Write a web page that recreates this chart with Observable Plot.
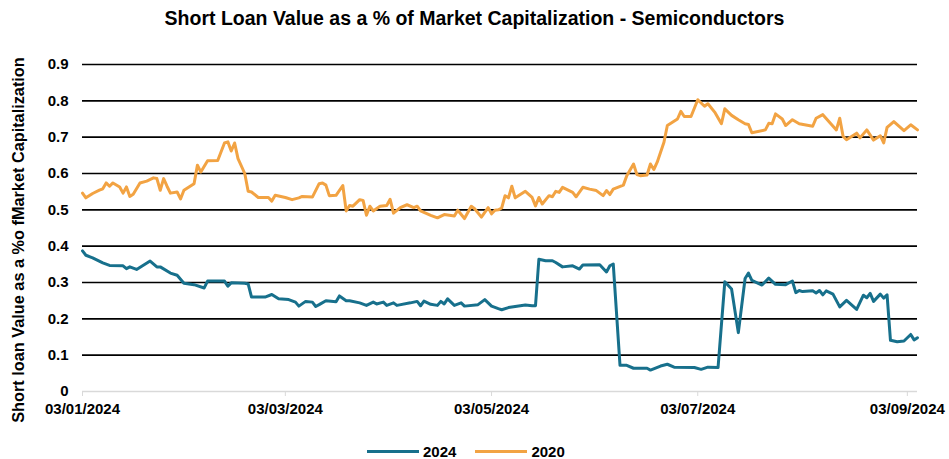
<!DOCTYPE html>
<html><head><meta charset="utf-8">
<script src="https://cdn.jsdelivr.net/npm/d3@7"></script>
<script src="https://cdn.jsdelivr.net/npm/@observablehq/plot@0.6"></script>
<style>
body{margin:0;background:#fff;font-family:"Liberation Sans",Arial,sans-serif;color:#000;}
#wrap{position:relative;width:949px;height:459px;overflow:hidden;}
#title{position:absolute;left:0;top:7px;width:949px;text-align:center;font-weight:bold;font-size:19.5px;z-index:2;}
#ylabel{position:absolute;left:18px;top:240px;transform:translate(-50%,-50%) rotate(-90deg);white-space:nowrap;font-weight:bold;font-size:16.3px;z-index:2;}
#chart{position:absolute;left:0;top:36px;z-index:1;}
#legend{position:absolute;top:443px;left:367px;display:flex;align-items:center;font-weight:bold;font-size:15px;z-index:2;}
.item{display:flex;align-items:center;margin-right:19px;}
.sw{width:52px;height:3px;margin-right:4px;}
</style>
</head><body>
<div id="wrap">
  <div id="chart"></div>
  <div id="title"></div>
  <div id="ylabel"></div>
  <div id="legend"></div>
</div>
<script>
const titleText = "Short Loan Value as a % of Market Capitalization - Semiconductors";
const yLabelText = "Short loan Value as a %o fMarket Capitalization";
const seriesNames = ["2024", "2020"];
const seriesColors = ["#17708c", "#f2a343"];
const yTicks = [0, 0.1, 0.2, 0.3, 0.4, 0.5, 0.6, 0.7, 0.8, 0.9];
const xTicks = ["2024-01-03", "2024-03-03", "2024-05-03", "2024-07-03", "2024-09-03"];
const xDomain = ["2024-01-03", "2024-09-06"];

const dates2024 = ["2024-01-03","2024-01-04","2024-01-06","2024-01-09","2024-01-11","2024-01-15","2024-01-16","2024-01-17","2024-01-19","2024-01-23","2024-01-25","2024-01-26","2024-01-29","2024-01-31","2024-02-02","2024-02-05","2024-02-08","2024-02-09","2024-02-14","2024-02-15","2024-02-16","2024-02-20","2024-02-21","2024-02-22","2024-02-26","2024-02-28","2024-03-01","2024-03-04","2024-03-06","2024-03-07","2024-03-09","2024-03-11","2024-03-12","2024-03-13","2024-03-15","2024-03-18","2024-03-19","2024-03-21","2024-03-22","2024-03-25","2024-03-27","2024-03-29","2024-03-30","2024-04-01","2024-04-02","2024-04-04","2024-04-05","2024-04-09","2024-04-11","2024-04-12","2024-04-13","2024-04-15","2024-04-17","2024-04-18","2024-04-19","2024-04-20","2024-04-22","2024-04-24","2024-04-25","2024-04-29","2024-05-01","2024-05-03","2024-05-05","2024-05-06","2024-05-08","2024-05-13","2024-05-15","2024-05-16","2024-05-17","2024-05-19","2024-05-21","2024-05-22","2024-05-24","2024-05-27","2024-05-29","2024-05-30","2024-06-04","2024-06-06","2024-06-07","2024-06-08","2024-06-10","2024-06-12","2024-06-14","2024-06-18","2024-06-19","2024-06-22","2024-06-24","2024-06-26","2024-07-02","2024-07-04","2024-07-06","2024-07-09","2024-07-11","2024-07-13","2024-07-15","2024-07-17","2024-07-18","2024-07-19","2024-07-22","2024-07-24","2024-07-26","2024-07-29","2024-07-31","2024-08-01","2024-08-02","2024-08-03","2024-08-06","2024-08-07","2024-08-08","2024-08-09","2024-08-10","2024-08-12","2024-08-14","2024-08-16","2024-08-19","2024-08-21","2024-08-22","2024-08-23","2024-08-24","2024-08-26","2024-08-27","2024-08-28","2024-08-29","2024-08-31","2024-09-02","2024-09-04","2024-09-05","2024-09-06"];
const values2024 = [0.387,0.375,0.368,0.354,0.347,0.346,0.338,0.343,0.336,0.359,0.343,0.343,0.326,0.320,0.298,0.294,0.285,0.304,0.304,0.290,0.299,0.298,0.296,0.260,0.260,0.267,0.255,0.253,0.246,0.235,0.248,0.246,0.234,0.239,0.250,0.247,0.263,0.250,0.250,0.244,0.237,0.246,0.241,0.246,0.237,0.244,0.237,0.244,0.248,0.236,0.249,0.240,0.237,0.248,0.241,0.255,0.237,0.244,0.235,0.239,0.253,0.235,0.228,0.225,0.231,0.238,0.236,0.236,0.364,0.360,0.360,0.355,0.343,0.346,0.337,0.348,0.349,0.329,0.346,0.351,0.072,0.072,0.064,0.064,0.059,0.070,0.075,0.067,0.066,0.061,0.067,0.066,0.302,0.282,0.162,0.311,0.326,0.306,0.293,0.312,0.295,0.294,0.304,0.272,0.278,0.275,0.277,0.271,0.278,0.266,0.277,0.268,0.233,0.251,0.226,0.265,0.258,0.270,0.248,0.268,0.257,0.266,0.141,0.137,0.139,0.157,0.142,0.148];

const dates2020 = ["2024-01-03","2024-01-04","2024-01-06","2024-01-08","2024-01-09","2024-01-10","2024-01-11","2024-01-12","2024-01-14","2024-01-15","2024-01-16","2024-01-17","2024-01-18","2024-01-20","2024-01-22","2024-01-24","2024-01-25","2024-01-26","2024-01-27","2024-01-28","2024-01-29","2024-01-31","2024-02-01","2024-02-02","2024-02-05","2024-02-06","2024-02-07","2024-02-09","2024-02-12","2024-02-14","2024-02-15","2024-02-16","2024-02-17","2024-02-18","2024-02-20","2024-02-21","2024-02-22","2024-02-24","2024-02-27","2024-02-28","2024-02-29","2024-03-03","2024-03-05","2024-03-07","2024-03-08","2024-03-11","2024-03-13","2024-03-14","2024-03-15","2024-03-16","2024-03-18","2024-03-20","2024-03-21","2024-03-22","2024-03-23","2024-03-25","2024-03-26","2024-03-27","2024-03-28","2024-03-29","2024-03-31","2024-04-02","2024-04-03","2024-04-04","2024-04-06","2024-04-08","2024-04-10","2024-04-11","2024-04-12","2024-04-15","2024-04-17","2024-04-19","2024-04-22","2024-04-23","2024-04-25","2024-04-27","2024-04-28","2024-04-30","2024-05-02","2024-05-03","2024-05-04","2024-05-05","2024-05-06","2024-05-07","2024-05-08","2024-05-09","2024-05-10","2024-05-13","2024-05-15","2024-05-16","2024-05-17","2024-05-18","2024-05-20","2024-05-21","2024-05-22","2024-05-23","2024-05-24","2024-05-27","2024-05-28","2024-05-30","2024-06-01","2024-06-03","2024-06-05","2024-06-06","2024-06-07","2024-06-08","2024-06-11","2024-06-12","2024-06-14","2024-06-15","2024-06-16","2024-06-18","2024-06-19","2024-06-20","2024-06-21","2024-06-23","2024-06-24","2024-06-27","2024-06-28","2024-06-29","2024-07-01","2024-07-03","2024-07-05","2024-07-06","2024-07-08","2024-07-10","2024-07-11","2024-07-13","2024-07-15","2024-07-17","2024-07-18","2024-07-19","2024-07-23","2024-07-24","2024-07-25","2024-07-26","2024-07-28","2024-07-29","2024-07-31","2024-08-02","2024-08-06","2024-08-07","2024-08-09","2024-08-13","2024-08-14","2024-08-15","2024-08-16","2024-08-19","2024-08-20","2024-08-22","2024-08-24","2024-08-26","2024-08-27","2024-08-28","2024-08-30","2024-09-02","2024-09-04","2024-09-06"];
const values2020 = [0.546,0.533,0.545,0.554,0.558,0.574,0.565,0.574,0.563,0.546,0.563,0.537,0.543,0.574,0.579,0.588,0.586,0.554,0.586,0.565,0.546,0.549,0.530,0.554,0.572,0.623,0.604,0.635,0.636,0.684,0.687,0.662,0.684,0.641,0.600,0.551,0.549,0.534,0.534,0.524,0.540,0.534,0.528,0.533,0.537,0.535,0.572,0.574,0.568,0.539,0.540,0.567,0.497,0.512,0.510,0.528,0.526,0.485,0.510,0.497,0.510,0.512,0.529,0.491,0.506,0.514,0.506,0.510,0.497,0.485,0.478,0.487,0.483,0.499,0.476,0.510,0.503,0.480,0.506,0.489,0.499,0.500,0.505,0.539,0.533,0.565,0.533,0.551,0.534,0.511,0.534,0.516,0.539,0.536,0.551,0.548,0.562,0.548,0.536,0.562,0.557,0.553,0.539,0.553,0.542,0.557,0.568,0.594,0.626,0.597,0.594,0.596,0.626,0.611,0.631,0.686,0.732,0.750,0.771,0.757,0.757,0.803,0.785,0.792,0.769,0.737,0.778,0.760,0.748,0.737,0.735,0.712,0.720,0.738,0.737,0.764,0.750,0.732,0.748,0.737,0.730,0.752,0.762,0.720,0.752,0.702,0.693,0.711,0.698,0.720,0.692,0.704,0.684,0.727,0.743,0.718,0.734,0.720];

const parse = d3.utcParse("%Y-%m-%d");
const rows2024 = dates2024.map((d, i) => ({date: parse(d), value: values2024[i]}));
const rows2020 = dates2020.map((d, i) => ({date: parse(d), value: values2020[i]}));

document.getElementById("title").textContent = titleText;
document.getElementById("ylabel").textContent = yLabelText;

const chart = Plot.plot({
  width: 949,
  height: 385,
  marginLeft: 82,
  marginRight: 32,
  marginTop: 28,
  marginBottom: 30,
  x: {type: "utc", domain: xDomain.map(parse)},
  y: {domain: [0, 0.9]},
  style: {fontFamily: "'Liberation Sans', Arial, sans-serif", fontSize: "15px", fontWeight: "bold", color: "#000", background: "transparent"},
  marks: [
    Plot.ruleY(yTicks.filter(d => d > 0), {stroke: "#000", strokeWidth: 1.7}),
    Plot.ruleY([0], {stroke: "#d9d9d9", strokeWidth: 1.5}),
    Plot.axisY({ticks: yTicks, tickSize: 0, tickPadding: 14, tickFormat: d => d === 0 ? "0" : d.toFixed(1), label: null, fill: "#000", fontWeight: "bold", fontSize: 15}),
    Plot.axisX({ticks: xTicks.map(parse), tickSize: 5, tickPadding: 7, stroke: "#d9d9d9", tickFormat: d3.utcFormat("%d/%m/%Y"), label: null, fill: "#000", fontWeight: "bold", fontSize: 15}),
    Plot.lineY(rows2024, {x: "date", y: "value", stroke: seriesColors[0], strokeWidth: 3, strokeLinejoin: "round"}),
    Plot.lineY(rows2020, {x: "date", y: "value", stroke: seriesColors[1], strokeWidth: 3, strokeLinejoin: "round"})
  ]
});
document.getElementById("chart").appendChild(chart);

const legend = document.getElementById("legend");
seriesNames.forEach((name, i) => {
  const item = document.createElement("div");
  item.className = "item";
  const sw = document.createElement("div");
  sw.className = "sw";
  sw.style.background = seriesColors[i];
  const label = document.createElement("span");
  label.textContent = name;
  item.appendChild(sw);
  item.appendChild(label);
  legend.appendChild(item);
});
</script>
</body></html>
